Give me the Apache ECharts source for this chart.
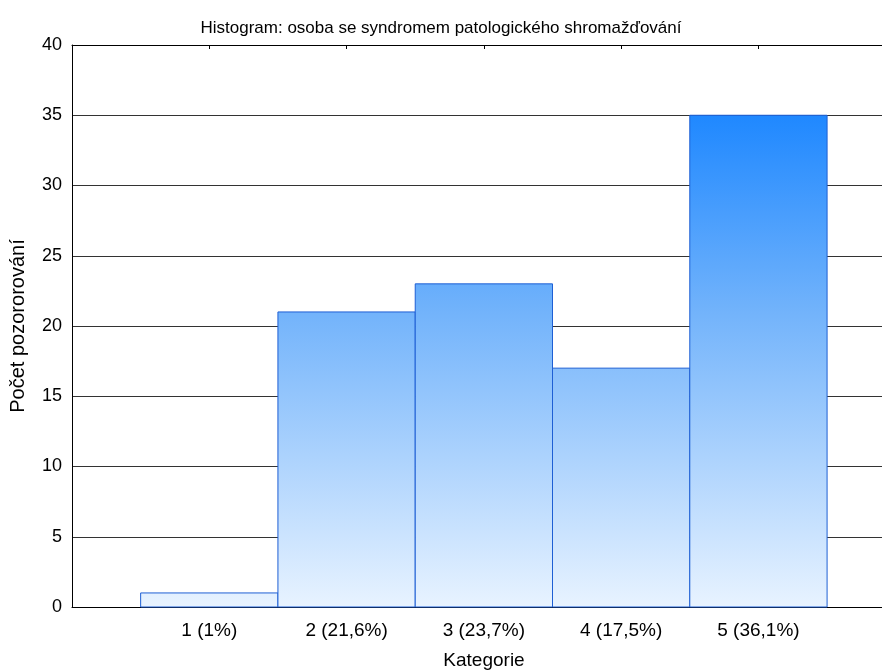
<!DOCTYPE html>
<html>
<head>
<meta charset="utf-8">
<script src="https://cdn.jsdelivr.net/npm/echarts@6/dist/echarts.min.js"></script>
<style>
  html, body { margin: 0; padding: 0; background: #fff; }
  #chart { width: 882px; height: 670px; }
</style>
</head>
<body>
<div id="chart"></div>
<script>
// data
var categories = [1, 2, 3, 4, 5];
var catLabels = ['1 (1%)', '2 (21,6%)', '3 (23,7%)', '4 (17,5%)', '5 (36,1%)'];
var counts = [1, 21, 23, 17, 35];
var yTicks = [0, 5, 10, 15, 20, 25, 30, 35, 40];

var myChart = echarts.init(document.getElementById('chart'));
var font = 'Liberation Sans, Arial, sans-serif';

var barData = categories.map(function (c, i) { return [c, counts[i]]; });

var option = {
  animation: false,
  backgroundColor: '#fff',
  title: {
    text: 'Histogram: osoba se syndromem patologického shromažďování',
    left: 'center',
    top: 15,
    textStyle: { fontFamily: font, fontSize: 17, fontWeight: 'normal', color: '#000' }
  },
  grid: { left: 72, right: 0, top: 45, bottom: 63, outerBoundsMode: 'none', containLabel: false },
  xAxis: [{
    type: 'value',
    min: 0,
    max: 5.9,
    interval: 1,
    name: 'Kategorie',
    nameLocation: 'middle',
    nameGap: 44,
    nameTextStyle: { fontFamily: font, fontSize: 19, color: '#000', padding: [0, 0, 0, 14] },
    axisLine: { onZero: false, lineStyle: { color: '#000', width: 1 } },
    axisTick: { inside: true, length: 4, lineStyle: { color: '#000' } },
    axisLabel: {
      margin: 14,
      fontFamily: font, fontSize: 19, color: '#000',
      showMaxLabel: false,
      formatter: function (v) {
        var i = categories.indexOf(v);
        return i >= 0 ? catLabels[i] : '';
      }
    },
    splitLine: { show: false }
  }, {
    type: 'value',
    position: 'top',
    min: 0,
    max: 5.9,
    interval: 1,
    axisLine: { show: true, onZero: false, lineStyle: { color: '#000', width: 1 } },
    axisTick: { show: true, inside: true, length: 4, lineStyle: { color: '#000' } },
    axisLabel: { show: false },
    splitLine: { show: false }
  }],
  yAxis: {
    type: 'value',
    min: yTicks[0],
    max: yTicks[yTicks.length - 1],
    interval: 5,
    name: 'Počet pozororování',
    nameLocation: 'middle',
    nameGap: 44,
    nameTextStyle: { fontFamily: font, fontSize: 20, color: '#000' },
    axisLine: { show: true, lineStyle: { color: '#000', width: 1 } },
    axisTick: { show: false },
    axisLabel: { margin: 10, fontFamily: font, fontSize: 18, color: '#000' },
    splitLine: { show: true, lineStyle: { color: '#333', width: 1 } }
  },
  series: [{
    type: 'custom',
    data: barData,
    encode: { x: 0, y: 1 },
    renderItem: function (params, api) {
      var c = api.value(0);
      var topLeft = api.coord([c - 0.5, api.value(1)]);
      var botRight = api.coord([c + 0.5, 0]);
      return {
        type: 'rect',
        shape: {
          x: topLeft[0],
          y: topLeft[1],
          width: botRight[0] - topLeft[0],
          height: botRight[1] - topLeft[1]
        },
        style: {
          fill: new echarts.graphic.LinearGradient(0, 115, 0, 607, [
            { offset: 0, color: '#1f88ff' },
            { offset: 0.4, color: '#72b3fb' },
            { offset: 1, color: '#e8f3ff' }
          ], true),
          stroke: '#1e5fd4',
          lineWidth: 1
        }
      };
    }
  }]
};

myChart.setOption(option);
</script>
</body>
</html>
